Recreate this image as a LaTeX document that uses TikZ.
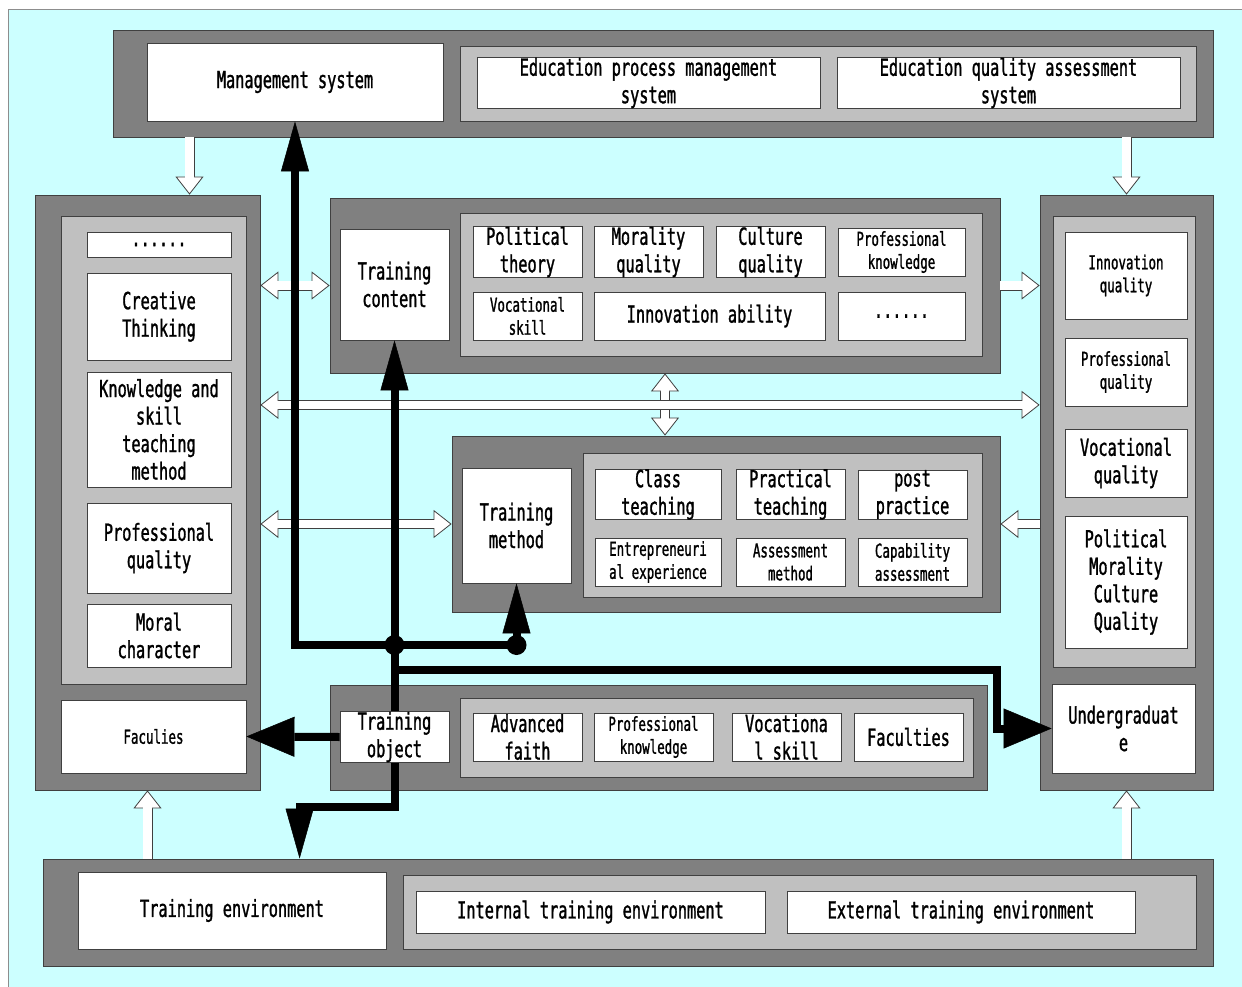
\documentclass[tikz,border=0pt]{standalone}
\usepackage{fontspec}
\newfontfamily\diagfont[FakeStretch=0.65,FakeBold=1.2]{DejaVu Sans Mono}
\usetikzlibrary{arrows.meta}
\definecolor{bgcyan}{HTML}{CCFFFF}
\definecolor{darkgrey}{HTML}{808080}
\definecolor{lightgrey}{HTML}{C0C0C0}
\definecolor{rim}{HTML}{404040}
\tikzset{panel/.style = {shape=rectangle,draw=rim,line width=0.8,fill=darkgrey,inner sep=0pt}}
\tikzset{subpanel/.style = {panel,fill=lightgrey}}
\tikzset{textbox/.style = {panel,fill=white,align=center,font=\diagfont\fontsize{23.5}{27.5}\selectfont}}
\tikzset{smallbox/.style = {textbox,font=\diagfont\fontsize{19.2}{23}\selectfont}}
\tikzset{wh/.style 2 args = {minimum width=#1,minimum height=#2}}
\tikzset{joint/.style = {shape=circle,fill=black,minimum size=20,inner sep=0pt}}
\tikzset{hollowtip/.tip = {Triangle[width=28pt,length=18pt,fill=white,color=rim,line width=0.8pt]}}
\tikzset{solidtip/.tip = {Triangle[width=28pt,length=50pt,line width=0.5pt]}}
\tikzset{widetip/.tip = {Triangle[width=40pt,length=48pt,line width=0.5pt]}}
\tikzset{hollow/.style = {line width=10,draw=rim,arrows={-hollowtip},postaction={draw=white,line width=8.4,arrows=-,shorten >=15pt}}}
\tikzset{hollowboth/.style = {line width=10,draw=rim,arrows={hollowtip-hollowtip},postaction={draw=white,line width=8.4,arrows=-,shorten >=15pt,shorten <=15pt}}}
\tikzset{flow/.style = {draw=black,line width=8}}

\begin{document}
\begin{tikzpicture}[x=1pt,y=-1pt]
  \useasboundingbox (0,0) rectangle (1242,987);
  \fill[bgcyan] (8,9) rectangle (1242,987);
  \draw[rim!60] (1242,9) -- (8,9) -- (8,987);

  % management system
  \node[panel,wh={1100}{107}] (mgmt) at (663,83.5) {};
  \node[textbox,wh={296}{78}] (mgsys) at (295,82) {Management system};
  \node[subpanel,wh={736}{75}] (mgsub) at (828,83.5) {};
  \node[textbox,wh={343}{42}] (procmgmt) at (648.5,83) {Education process management\\system};
  \node[textbox,wh={343}{42}] (qualassess) at (1008.5,83) {Education quality assessment\\system};

  % left column
  \node[panel,wh={225}{595}] (leftp) at (147.5,492.5) {};
  \node[subpanel,wh={185}{468}] (leftsub) at (153.5,450) {};
  \node[textbox,wh={144}{25}] (ldots) at (159,244.5) {......};
  \node[textbox,wh={144}{87}] (creative) at (159,316.5) {Creative\\Thinking};
  \node[textbox,wh={144}{115}] (knowskill) at (159,429.5) {Knowledge and\\skill\\teaching\\method};
  \node[textbox,wh={144}{90}] (profqual) at (159,548) {Professional\\quality};
  \node[textbox,wh={144}{63}] (moral) at (159,635.5) {Moral\\character};
  \node[smallbox,wh={185}{73}] (faculies) at (153.5,736.5) {Faculies};

  % training content
  \node[panel,wh={670}{175}] (contp) at (665,285.5) {};
  \node[textbox,wh={109}{111}] (tcontent) at (394.5,284.5) {Training\\content};
  \node[subpanel,wh={522}{143}] (contsub) at (721,284.5) {};
  \node[textbox,wh={109}{48}] (polthe) at (527.5,252) {Political\\theory};
  \node[textbox,wh={109}{48}] (morqual) at (648.5,252) {Morality\\quality};
  \node[textbox,wh={109}{48}] (culqual) at (770.5,252) {Culture\\quality};
  \node[smallbox,wh={127}{48}] (profknow) at (901.5,252) {Professional\\knowledge};
  \node[smallbox,wh={109}{48}] (vocskill) at (527.5,316) {Vocational\\skill};
  \node[textbox,wh={231}{48}] (innoab) at (709.5,316) {Innovation ability};
  \node[textbox,wh={127}{48}] (cdots) at (901.5,316) {......};

  % training method
  \node[panel,wh={548}{176}] (methp) at (726,524) {};
  \node[textbox,wh={109}{115}] (tmethod) at (516.5,525.5) {Training\\method};
  \node[subpanel,wh={399}{144}] (methsub) at (782.5,525) {};
  \node[textbox,wh={126}{49}] (classt) at (658,494.5) {Class\\teaching};
  \node[textbox,wh={109}{49}] (practt) at (790.5,494.5) {Practical\\teaching};
  \node[textbox,wh={109}{49}] (postp) at (912.5,494.5) {post\\practice};
  \node[smallbox,wh={126}{48}] (entre) at (658,562) {Entrepreneuri\\al experience};
  \node[smallbox,wh={109}{48}] (assess) at (790.5,562) {Assessment\\method};
  \node[smallbox,wh={109}{48}] (capab) at (912.5,562) {Capability\\assessment};

  % training object
  \node[panel,wh={657}{105}] (objp) at (658.5,737.5) {};
  \node[textbox,wh={109}{48}] (tobject) at (394.5,737) {Training\\object};
  \node[subpanel,wh={513}{79}] (objsub) at (716.5,737.5) {};
  \node[textbox,wh={109}{48}] (advfaith) at (527.5,737) {Advanced\\faith};
  \node[smallbox,wh={119}{48}] (objprof) at (653.5,737) {Professional\\knowledge};
  \node[textbox,wh={109}{48}] (objvoc) at (786.5,737) {Vocationa\\l skill};
  \node[textbox,wh={109}{48}] (faculties) at (908.5,737) {Faculties};

  % right column
  \node[panel,wh={173}{595}] (rightp) at (1126.5,492.5) {};
  \node[subpanel,wh={142}{451}] (rightsub) at (1124,441.5) {};
  \node[smallbox,wh={122}{87}] (innoqual) at (1126,275.5) {Innovation\\quality};
  \node[smallbox,wh={122}{68}] (rprof) at (1126,372) {Professional\\quality};
  \node[textbox,wh={122}{68}] (rvoc) at (1126,463) {Vocational\\quality};
  \node[textbox,wh={122}{132}] (rpol) at (1126,582) {Political\\Morality\\Culture\\Quality};
  \node[textbox,wh={143}{89}] (undergrad) at (1123.5,728.5) {Undergraduat\\e};

  % training environment
  \node[panel,wh={1170}{107}] (envp) at (628,912.5) {};
  \node[textbox,wh={308}{77}] (tenv) at (232,910.5) {Training environment};
  \node[subpanel,wh={793}{74}] (envsub) at (799.5,912) {};
  \node[textbox,wh={349}{42}] (intenv) at (590.5,912) {Internal training environment};
  \node[textbox,wh={348}{42}] (extenv) at (961,912) {External training environment};

  % hollow arrows
  \draw[hollow] ([xshift=42pt]leftp.north |- mgmt.south) -- ([xshift=42pt]leftp.north);
  \draw[hollow] (mgmt.south -| rightp.north) -- (rightp.north);
  \draw[hollow] (envp.north -| leftp.south) -- (leftp.south);
  \draw[hollow] (envp.north -| rightp.south) -- (rightp.south);
  \draw[hollowboth] (leftp.east |- contp.west) -- (contp.west);
  \draw[hollowboth] (contp.south) -- (contp.south |- methp.north);
  \draw[hollowboth] ([yshift=-31.5pt]leftp.east |- contp.south) -- ([yshift=-31.5pt]rightp.west |- contp.south);
  \draw[hollowboth] (leftp.east |- methp.west) -- (methp.west);
  \draw[hollow] (contp.east) -- (contp.east -| rightp.west);
  \draw[hollow] (methp.east -| rightp.west) -- (methp.east);

  % black flows
  \node[joint] (jn) at (394.5,645) {};
  \node[joint] (md) at (tmethod.south |- jn) {};
  \draw[flow,arrows={-solidtip}] (tobject.north) -- (tcontent.south);
  \draw[flow,arrows={-solidtip}] (jn.center) -| (mgsys.south);
  \draw[flow] (jn.center) -- (md.center);
  \draw[flow,arrows={-solidtip}] (md.center) -- (tmethod.south);
  \draw[flow,arrows={-widetip}] ([yshift=41pt]tobject.north) -- ++(602.5,0) |- (undergrad.west);
  \draw[flow,arrows={-widetip}] (tobject.west) -- (faculies.east);
  \draw[flow,arrows={-solidtip}] (tobject.south) -- ++(0,44) -| ([xshift=257pt]envp.north west);
\end{tikzpicture}
\end{document}
